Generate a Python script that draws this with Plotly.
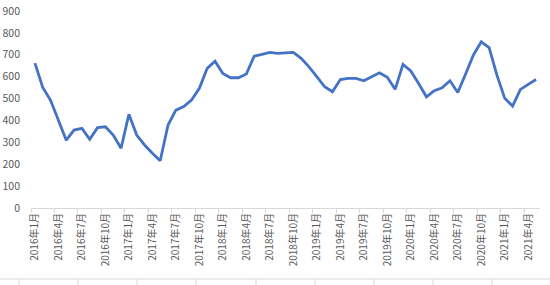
import plotly.graph_objects as go

months = [f"{y}年{m}月" for y in range(2016, 2022) for m in range(1, 13)][:65]
values = [662, 551, 492, 402, 310, 356, 364, 314, 367, 371, 333, 273,
          428, 333, 288, 250, 216, 379, 447, 463, 493, 547, 638, 671,
          615, 595, 595, 612, 694, 702, 711, 706, 709, 711, 684, 645,
          600, 554, 531, 587, 592, 592, 581, 600, 618, 597, 542, 656,
          626, 569, 508, 536, 549, 581, 528, 612, 699, 759, 733, 607,
          501, 466, 542, 565, 587]
tick_idx = list(range(0, 65, 3))
tick_text = [months[i] for i in tick_idx]
yticks = list(range(0, 1000, 100))

W, H = 550, 285
L, R, T, B = 31, 10, 11, 77
idx = list(range(len(months)))

fig = go.Figure()
fig.add_trace(go.Scatter(x=idx, y=values, mode="lines",
                         line=dict(color="#4472C4", width=2.8),
                         hoverinfo="skip", showlegend=False))

font = "Noto Sans CJK SC, Microsoft YaHei, sans-serif"
fig.update_layout(
    width=W, height=H, margin=dict(l=L, r=R, t=T, b=B, autoexpand=False),
    paper_bgcolor="white", plot_bgcolor="white",
    font=dict(family=font, size=10, color="#595959"),
    xaxis=dict(range=[-0.5, len(months) - 0.5], tickmode="array",
               tickvals=tick_idx, ticktext=tick_text, tickangle=-90,
               ticks="", showgrid=False, zeroline=False, automargin=False,
               showline=True, linecolor="#d9d9d9", linewidth=1,
               tickfont=dict(size=10, color="#595959"),
               minor=dict(tickvals=[i - 0.5 for i in tick_idx], ticks="outside",
                          ticklen=4, tickcolor="#d9d9d9", showgrid=False)),
    yaxis=dict(range=[0, 900], tickmode="array", tickvals=yticks,
               showgrid=False, zeroline=False, showline=False, ticks="",
               ticklabelstandoff=10, automargin=False,
               tickfont=dict(size=10.5, color="#595959")),
)

# decorative lower border line with separators (as in the cropped source)
ph = H - T - B
pw = W - L - R
def px2x(px): return (px - L) / pw
def py2y(py): return (H - B - py) / ph
fig.add_shape(type="line", xref="paper", yref="paper",
              x0=px2x(0), x1=px2x(W), y0=py2y(279), y1=py2y(279),
              line=dict(color="#d9d9d9", width=1))
for sx in [19, 78, 137, 196, 256, 315, 374, 433, 492]:
    fig.add_shape(type="line", xref="paper", yref="paper",
                  x0=px2x(sx), x1=px2x(sx), y0=py2y(279), y1=py2y(286),
                  line=dict(color="#d9d9d9", width=1))

fig.write_html("out.html")
